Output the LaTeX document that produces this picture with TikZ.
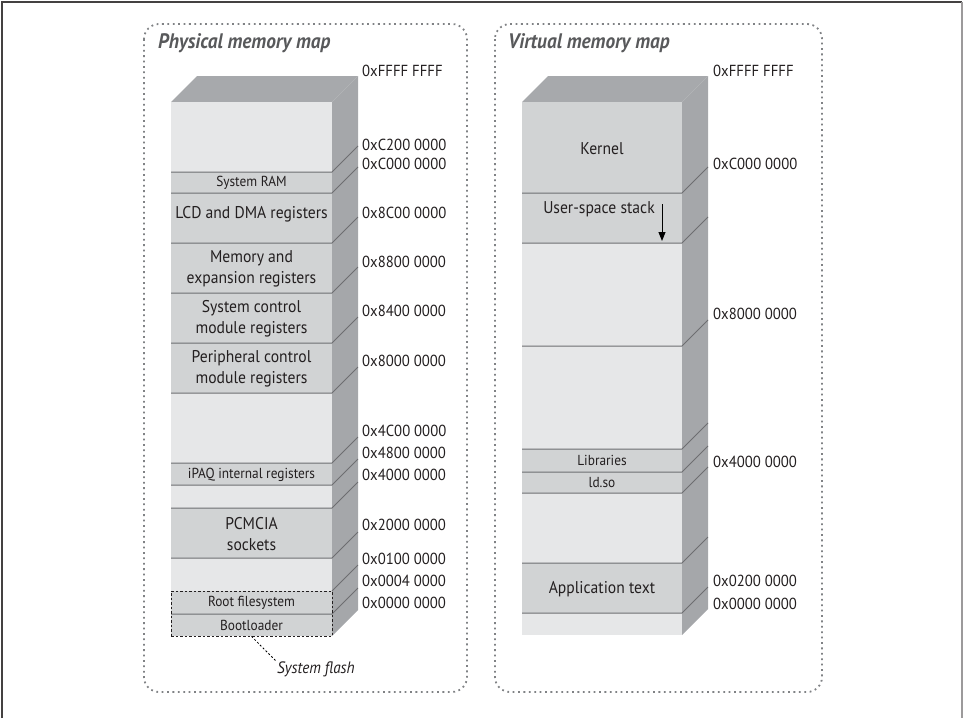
\documentclass[tikz,border=0pt]{standalone}
\usepackage{fontspec}
\setmainfont{PT Sans}[FakeStretch=0.92]
\usetikzlibrary{arrows.meta}

\definecolor{topgray}{HTML}{A7A9AC}
\definecolor{sidegray}{HTML}{A5A7AA}
\definecolor{freegray}{HTML}{E6E7E8}
\definecolor{usedgray}{HTML}{D1D3D4}
\definecolor{edgegray}{HTML}{6D6E71}
\definecolor{inkgray}{HTML}{231F20}
\definecolor{titlegray}{HTML}{58595B}
\definecolor{dotgray}{HTML}{808285}

\tikzset{
  free/.style={fill=freegray},
  used/.style={fill=usedgray},
  sep/.style={draw=edgegray, line width=1pt},
  addr/.style={anchor=west, inner sep=0pt, text=inkgray, font=\fontsize{16}{18}\selectfont},
  region/.style={align=center, inner sep=0pt, text=inkgray, font=\fontsize{17}{21}\selectfont},
  smallregion/.style={inner sep=0pt, text=inkgray, font=\fontsize{14.5}{16}\selectfont},
  maptitle/.style={anchor=west, inner sep=0pt, text=titlegray, font=\fontsize{21}{23}\selectfont\bfseries\itshape},
  mapframe/.style={draw=dotgray, line width=1.8pt, dash pattern=on 1.8pt off 3.6pt, rounded corners=15pt},
  flashbox/.style={draw=inkgray, line width=0.8pt, dash pattern=on 2.5pt off 2pt, minimum width=161pt, minimum height=45pt, inner sep=0pt},
}

\begin{document}
\begin{tikzpicture}[x=1pt, y=-1pt]
\useasboundingbox (0,0) rectangle (964,718);

% outer frame
\draw[line width=1.5pt, color=inkgray!85] (2,718) -- (2,2) -- (962,2);
\draw[line width=1.5pt, color=inkgray!45] (962,2) -- (962,718);

% dotted frames
\draw[mapframe] (144,24) rectangle (467,692);
\draw[mapframe] (495,24) rectangle (822,692);

\node[maptitle] (phys-title) at (158,43) {Physical memory map};
\node[maptitle] (virt-title) at (508,43) {Virtual memory map};

% ---- physical stack ----
\fill[topgray] (171,102) -- (197,76) -- (358,76) -- (332,102) -- cycle;
\fill[sidegray] (332,102) -- (358,76) -- (358,610) -- (332,636) -- cycle;

\fill[free] (171,102) rectangle (332,172);
\fill[used] (171,172) rectangle (332,193);
\fill[used] (171,193) rectangle (332,243);
\fill[used] (171,243) rectangle (332,293);
\fill[used] (171,293) rectangle (332,343);
\fill[used] (171,343) rectangle (332,393);
\fill[free] (171,393) rectangle (332,463);
\fill[used] (171,463) rectangle (332,485);
\fill[free] (171,485) rectangle (332,508);
\fill[used] (171,508) rectangle (332,558);
\fill[free] (171,558) rectangle (332,591);
\fill[used] (171,591) rectangle (332,614);
\fill[used] (171,614) rectangle (332,636);

\draw[sep] (171,172) -- (332,172) -- (358,146);
\draw[sep] (171,193) -- (332,193) -- (358,167);
\draw[sep] (171,243) -- (332,243) -- (358,217);
\draw[sep] (171,293) -- (332,293) -- (358,267);
\draw[sep] (171,343) -- (332,343) -- (358,317);
\draw[sep] (171,393) -- (332,393) -- (358,367);
\draw[sep] (171,463) -- (332,463) -- (358,437);
\draw[sep] (171,485) -- (332,485) -- (358,459);
\draw[sep] (171,508) -- (332,508) -- (358,482);
\draw[sep] (171,558) -- (332,558) -- (358,532);
\draw[sep] (332,591) -- (358,565);
\draw[sep] (171,614) -- (332,614) -- (358,588);

\node[smallregion] (ram) at (251.5,183) {System RAM};
\node[region] (lcd) at (251.5,214) {LCD and DMA registers};
\node[region] (memexp) at (251.5,269) {Memory and\\expansion registers};
\node[region] (sysctl) at (251.5,319) {System control\\module registers};
\node[region] (perctl) at (251.5,369) {Peripheral control\\module registers};
\node[smallregion] (ipaq) at (251.5,475) {iPAQ internal registers};
\node[region] (pcmcia) at (251.5,534) {PCMCIA\\sockets};
\node[smallregion] (rootfs) at (251.5,603) {Root filesystem};
\node[smallregion] (boot) at (251.5,625) {Bootloader};

\node[flashbox] (flash) at (251.5,613.5) {};
\node[anchor=north west, inner sep=1pt, text=inkgray, font=\fontsize{16.5}{19}\selectfont\itshape] (flash-note) at (276,661) {System flash};
\draw[line width=0.8pt, dash pattern=on 2pt off 2pt] (flash.south) -- (flash-note.north west);

\node[addr] (p-ffff) at (362,71) {0xFFFF FFFF};
\node[addr] (p-c200) at (362,145) {0xC200 0000};
\node[addr] (p-c000) at (362,164) {0xC000 0000};
\node[addr] (p-8c00) at (362,213) {0x8C00 0000};
\node[addr] (p-8800) at (362,262) {0x8800 0000};
\node[addr] (p-8400) at (362,311) {0x8400 0000};
\node[addr] (p-8000) at (362,361) {0x8000 0000};
\node[addr] (p-4c00) at (362,431) {0x4C00 0000};
\node[addr] (p-4800) at (362,453) {0x4800 0000};
\node[addr] (p-4000) at (362,475) {0x4000 0000};
\node[addr] (p-2000) at (362,525) {0x2000 0000};
\node[addr] (p-0100) at (362,559) {0x0100 0000};
\node[addr] (p-0004) at (362,581) {0x0004 0000};
\node[addr] (p-0000) at (362,603) {0x0000 0000};

% ---- virtual stack ----
\fill[topgray] (522,102) -- (548,76) -- (708,76) -- (682,102) -- cycle;
\fill[sidegray] (682,102) -- (708,76) -- (708,609) -- (682,635) -- cycle;

\fill[used] (522,102) rectangle (682,193);
\fill[used] (522,193) rectangle (682,243);
\fill[free] (522,243) rectangle (682,346);
\fill[free] (522,346) rectangle (682,449);
\fill[used] (522,449) rectangle (682,472);
\fill[used] (522,472) rectangle (682,493);
\fill[free] (522,493) rectangle (682,563);
\fill[used] (522,563) rectangle (682,613);
\fill[free] (522,613) rectangle (682,635);

\draw[sep] (522,193) -- (682,193) -- (708,167);
\draw[sep] (522,243) -- (682,243) -- (708,217);
\draw[sep] (522,346) -- (682,346) -- (708,320);
\draw[sep] (522,449) -- (682,449) -- (708,423);
\draw[sep] (522,472) -- (682,472) -- (708,446);
\draw[sep] (522,493) -- (682,493) -- (708,467);
\draw[sep] (522,563) -- (682,563) -- (708,537);
\draw[sep] (522,613) -- (682,613) -- (708,587);

\node[region] (kernel) at (602,149) {Kernel};
\node[region] (ustack) at (599,209) {User-space stack};
\coordinate (grow-from) at (662,204);
\coordinate (grow-to) at (662,241);
\draw[line width=1pt, -{Triangle[length=9pt, width=7pt]}] (grow-from) -- (grow-to);
\node[smallregion] (libs) at (602,460) {Libraries};
\node[smallregion] (ldso) at (602,483) {ld.so};
\node[region] (apptext) at (602,589) {Application text};

\node[addr] (v-ffff) at (713,71) {0xFFFF FFFF};
\node[addr] (v-c000) at (713,164) {0xC000 0000};
\node[addr] (v-8000) at (713,314) {0x8000 0000};
\node[addr] (v-4000) at (713,462) {0x4000 0000};
\node[addr] (v-0200) at (713,581) {0x0200 0000};
\node[addr] (v-0000) at (713,604) {0x0000 0000};
\end{tikzpicture}
\end{document}
